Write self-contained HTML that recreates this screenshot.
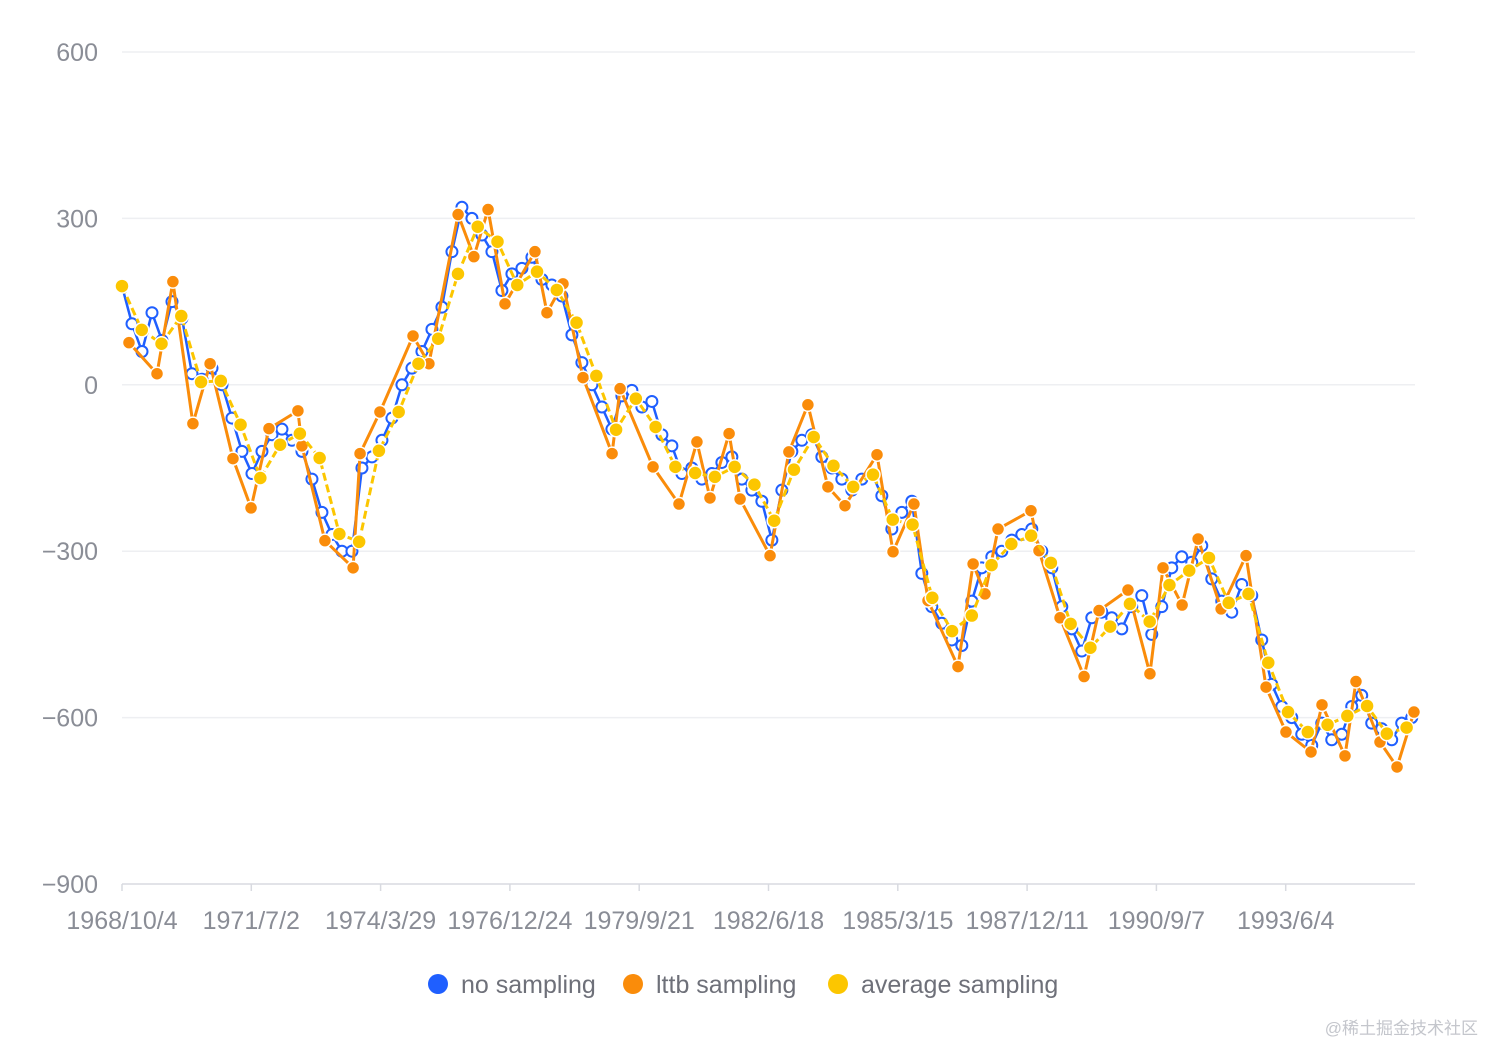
<!DOCTYPE html>
<html><head><meta charset="utf-8">
<style>
body{margin:0;background:#fff;}
svg{display:block;font-family:"Liberation Sans","Noto Sans CJK SC",sans-serif;}
</style></head>
<body>
<svg id="chart" width="1485" height="1044"></svg>
<script>
// ---- data ----
const startDate = [1968, 10, 4];
const yTicks = [600, 300, 0, -300, -600, -900];
const xTickStepDays = 1001;
const blueStepDays = 77.4;
const blueValues = [178,110,60,130,80,150,120,20,10,30,0,-60,-120,-160,-120,-90,-80,-100,-120,-170,-230,-270,-300,-300,-150,-130,-100,-60,0,30,60,100,140,240,320,300,270,240,170,200,210,230,190,180,160,90,40,0,-40,-80,-20,-10,-40,-30,-90,-110,-160,-150,-170,-160,-140,-130,-170,-190,-210,-280,-190,-120,-100,-90,-130,-150,-170,-190,-170,-160,-200,-260,-230,-210,-340,-400,-430,-460,-470,-390,-330,-310,-300,-280,-270,-260,-300,-330,-400,-440,-480,-420,-410,-420,-440,-400,-380,-450,-400,-330,-310,-320,-290,-350,-390,-410,-360,-380,-460,-540,-580,-600,-630,-650,-610,-640,-630,-580,-560,-610,-620,-640,-610,-600];
const orangeDays = [54,271,394,549,682,859,999,1138,1362,1393,1571,1789,1843,1997,2253,2376,2602,2724,2834,2965,3197,3290,3414,3569,3794,3856,4111,4312,4451,4552,4700,4785,5017,5163,5310,5465,5597,5845,5969,6131,6240,6472,6589,6681,6782,7037,7099,7262,7448,7564,7788,7958,8059,8207,8331,8509,8702,8857,9011,9205,9290,9468,9553,9739,9871,10002];
const orangeValues = [76,20,186,-70,38,-133,-222,-79,-47,-110,-281,-330,-124,-49,88,38,307,231,316,146,240,130,182,13,-124,-7,-148,-215,-103,-204,-88,-206,-308,-121,-36,-184,-218,-126,-301,-215,-389,-508,-323,-377,-260,-227,-299,-420,-526,-407,-370,-521,-330,-397,-278,-404,-308,-545,-626,-662,-577,-669,-535,-644,-689,-590];
const yellowStepDays = 153.0;
const yellowValues = [178,99,74,124,5,7,-72,-168,-108,-88,-132,-269,-283,-119,-49,38,83,200,285,258,180,204,171,112,16,-81,-25,-76,-148,-159,-166,-148,-180,-245,-153,-94,-146,-184,-162,-243,-252,-384,-444,-416,-325,-287,-272,-321,-431,-474,-436,-395,-427,-361,-335,-312,-393,-377,-501,-590,-626,-613,-597,-579,-629,-618];

const NS="http://www.w3.org/2000/svg";
const svg=document.getElementById('chart');
const X0=122,X1=1415,Y0=52,Y1=884,D=10010;
const xs=d=>X0+(X1-X0)*d/D;
const ys=v=>Y0+(600-v)*(Y1-Y0)/1500;
function mk(tag,attrs,parent){const e=document.createElementNS(NS,tag);for(const k in attrs)e.setAttribute(k,attrs[k]);(parent||svg).appendChild(e);return e;}

yTicks.forEach(v=>{
  const g=mk('line',{x1:X0,x2:X1,y1:ys(v),y2:ys(v),stroke:v===-900?'#d8dae0':'#eeeff2','stroke-width':1.5});
  
  
  const t=mk('text',{x:98,y:ys(v)+9,'text-anchor':'end','font-size':25,fill:'#8a8d96'});
  t.textContent=(v<0?'\u2212'+(-v):v);
  
  
});
const sd=new Date(Date.UTC(startDate[0],startDate[1]-1,startDate[2]));
for(let d=0;d<D-10;d+=xTickStepDays){
  const x=xs(d);
  const tk=mk('line',{x1:x,x2:x,y1:Y1,y2:Y1+7,stroke:'#d8dae0','stroke-width':1.5});
  
  
  const dt=new Date(sd.getTime()+d*86400000);
  const t=mk('text',{x:x,y:929,'text-anchor':'middle','font-size':25,fill:'#8a8d96'});
  t.textContent=dt.getUTCFullYear()+'/'+(dt.getUTCMonth()+1)+'/'+dt.getUTCDate();
  
  
}
function series(pts,color,name,opts){
  const g=mk('g',{});
  
  
  const p=mk('polyline',{points:pts.map(q=>q.join(',')).join(' '),fill:'none',stroke:color,'stroke-width':opts.lw,'stroke-dasharray':opts.dash||'none','stroke-linejoin':'round'},g);
  
  
  pts.forEach(q=>{
    const c=mk('circle',{cx:q[0],cy:q[1],r:opts.r,fill:opts.fill||color,stroke:opts.stroke,'stroke-width':opts.sw},g);
    
    
  });
}
series(blueValues.map((v,i)=>[xs(i*blueStepDays),ys(v)]),'#1f5fff','no-sampling',{lw:2.5,r:5.5,fill:'#fff',stroke:'#1f5fff',sw:2});
series(orangeDays.map((d,i)=>[xs(d),ys(orangeValues[i])]),'#fa8c0a','lttb-sampling',{lw:3,r:6.5,stroke:'#fff',sw:1.5});
series(yellowValues.map((v,i)=>[xs(i*yellowStepDays),ys(v)]),'#fcc600','average-sampling',{lw:3,dash:'8 4',r:7,stroke:'#fff',sw:1.5});

const leg=[[438,'#1f5fff','no sampling'],[633,'#fa8c0a','lttb sampling'],[838,'#fcc600','average sampling']];
leg.forEach(l=>{
  const g=mk('g',{});
  
  
  mk('circle',{cx:l[0],cy:984,r:10,fill:l[1]},g);
  const t=mk('text',{x:l[0]+23,y:993,'font-size':25,fill:'#6e7079'},g);
  t.textContent=l[2];
});
const wm=mk('text',{x:1478,y:1034,'text-anchor':'end','font-size':17,fill:'#c4c6cc'});
wm.textContent='@稀土掘金技术社区';


</script>
</body></html>
